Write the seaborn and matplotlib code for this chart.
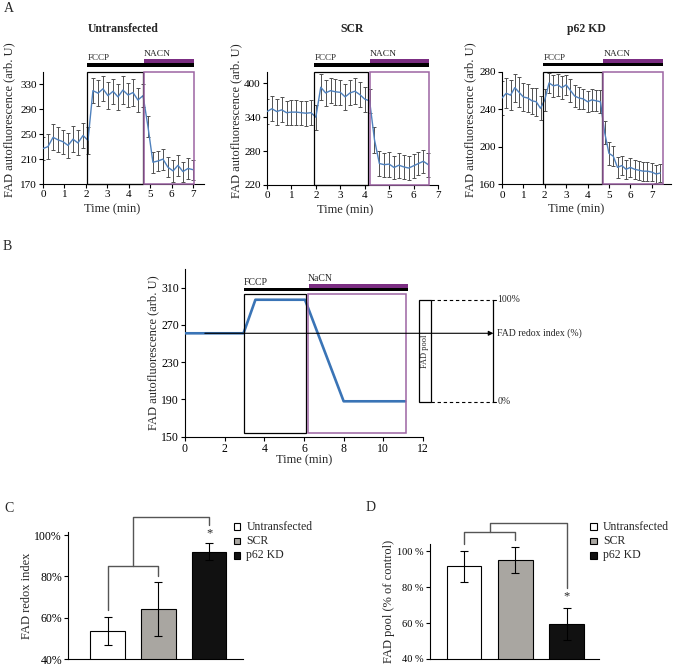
import matplotlib
matplotlib.use('Agg')
import matplotlib.pyplot as plt
from matplotlib.patches import Rectangle
from matplotlib.transforms import blended_transform_factory
import seaborn as sns

sns.set_theme(style='ticks')
plt.rcParams['font.family'] = ['Liberation Serif', 'DejaVu Serif']
plt.rcParams['axes.linewidth'] = 0.8
plt.rcParams['xtick.major.width'] = 0.8
plt.rcParams['ytick.major.width'] = 0.8
plt.rcParams['xtick.major.size'] = 3
plt.rcParams['ytick.major.size'] = 3
plt.rcParams['xtick.major.pad'] = 1.5
plt.rcParams['ytick.major.pad'] = 1.5

# ---------------- data ----------------
untr_t = [0.00, 0.23, 0.47, 0.70, 0.93, 1.17, 1.40, 1.63, 1.87, 2.10,
          2.33, 2.57, 2.80, 3.03, 3.27, 3.50, 3.73, 3.97, 4.20, 4.43, 4.67,
          4.90, 5.13, 5.37, 5.60, 5.83, 6.07, 6.30, 6.53, 6.77, 7.00]
untr_v = [227, 230, 245, 241, 238, 232, 242, 236, 248, 240,
          320, 316, 323, 312, 319, 310, 321, 313, 317, 305, 312,
          262, 205, 207, 210, 197, 191, 200, 190, 195, 193]
untr_e = [18, 20, 21, 20, 19, 20, 21, 20, 20, 22,
          20, 21, 20, 22, 20, 21, 22, 20, 21, 20, 19,
          17, 17, 16, 17, 16, 18, 17, 16, 17, 16]

scr_t = [0.0, 0.2, 0.4, 0.6, 0.8, 1.0, 1.2, 1.4, 1.6, 1.8,
         2.0, 2.2, 2.4, 2.6, 2.8, 3.0, 3.2, 3.4, 3.6, 3.8, 4.0, 4.2,
         4.4, 4.6, 4.8, 5.0, 5.2, 5.4, 5.6, 5.8, 6.0, 6.2, 6.4, 6.6]
scr_v = [350, 355, 350, 353, 348, 349, 349, 348, 347, 348,
         340, 393, 383, 387, 385, 384, 376, 383, 386, 380, 372, 369,
         300, 258, 256, 257, 251, 255, 252, 250, 254, 258, 262, 256]
scr_e = [22, 22, 23, 22, 21, 22, 22, 21, 22, 22,
         22, 23, 23, 22, 23, 22, 23, 22, 23, 22, 22, 21,
         23, 22, 21, 22, 21, 22, 21, 21, 21, 20, 20, 21]

p62_t = [0.0, 0.2, 0.4, 0.6, 0.8, 1.0, 1.2, 1.4, 1.6, 1.8,
         2.0, 2.2, 2.4, 2.6, 2.8, 3.0, 3.2, 3.4, 3.6, 3.8,
         4.0, 4.2, 4.4, 4.6, 4.8, 5.0, 5.2, 5.4, 5.6, 5.8,
         6.0, 6.2, 6.4, 6.6, 6.8, 7.0, 7.2, 7.4]
p62_v = [252, 257, 255, 263, 258, 253, 252, 249, 248, 241,
         250, 268, 265, 266, 263, 266, 260, 254, 252, 251,
         248, 250, 249, 248, 215, 193, 190, 178, 180, 176,
         178, 176, 175, 174, 174, 173, 171, 172]
p62_e = [18, 16, 16, 15, 16, 15, 15, 14, 15, 13,
         12, 11, 12, 12, 12, 11, 12, 12, 12, 11,
         11, 12, 11, 12, 12, 12, 11, 11, 10, 10,
         10, 10, 10, 10, 10, 10, 10, 10]

# drug application windows: [fccp start, fccp box end, nacn start, nacn end]
untr_win = [2.07, 4.66, 4.72, 7.05]
scr_win = [1.94, 4.15, 4.20, 6.64]
p62_win = [1.93, 4.69, 4.74, 7.51]

# schematic (panel B)
schem_t = [0.0, 2.95, 3.55, 6.05, 8.0, 11.1]
schem_v = [261, 261, 297, 297, 188, 188]
schem_fccp = [2.95, 6.1]
schem_nacn = [6.2, 11.15]

groups = ['Untransfected', 'SCR', 'p62 KD']
redox_vals = [53.4, 64.1, 92.0]
redox_err = [6.8, 13.2, 4.3]
pool_vals = [91.5, 95.0, 59.6]
pool_err = [8.6, 7.2, 8.8]
bar_colors = ['#ffffff', '#a9a6a1', '#111111']

BLUE = '#4f81bd'
PURPLE = '#7b2d82'
PURPLE_BOX = '#9c64a3'
BRACKET = '#555555'

W, H = 675, 666
fig = plt.figure(figsize=(W / 100, H / 100), dpi=100)


def rect(l, t, r, b):
    return [l / W, 1 - b / H, (r - l) / W, (b - t) / H]


def style(ax, fs=8.5):
    sns.despine(ax=ax)
    ax.tick_params(labelsize=fs, colors='black', direction='out')
    for s in ax.spines.values():
        s.set_color('black')


def panel_a(box, title, t, v, e, xlim, ylim, yticks, win, ylab_x, ylab_y, xlab_x):
    ax = fig.add_axes(rect(*box))
    hpx = box[3] - box[1]
    ax.errorbar(t, v, yerr=e, fmt='none', ecolor='#505050', elinewidth=0.7,
                capsize=1.3, capthick=0.7, zorder=2)
    sns.lineplot(x=t, y=v, ax=ax, color=BLUE, lw=1.0, zorder=3)
    ax.set_xlim(xlim)
    ax.set_ylim(ylim)
    ax.set_xticks(range(0, 8))
    ax.set_yticks(yticks)
    style(ax, fs=8)
    f0, f1, n0, n1 = win
    ax.add_patch(Rectangle((f0, ylim[0]), f1 - f0, ylim[1] - ylim[0], fill=False,
                           ec='black', lw=0.9, zorder=4, clip_on=False))
    ax.add_patch(Rectangle((n0, ylim[0]), n1 - n0, ylim[1] - ylim[0], fill=False,
                           ec=PURPLE_BOX, lw=1.1, zorder=4, clip_on=False))
    tr = blended_transform_factory(ax.transData, ax.transAxes)
    fr = lambda px: 1 + px / hpx
    ax.add_patch(Rectangle((f0, fr(5.3)), n1 - f0, fr(8.7) - fr(5.3), color='black',
                           transform=tr, clip_on=False, lw=0))
    ax.add_patch(Rectangle((n0, fr(8.7)), n1 - n0, fr(12.7) - fr(8.7), color=PURPLE,
                           transform=tr, clip_on=False, lw=0))
    ax.text(f0, fr(10.0), 'FCCP', transform=tr, fontsize=6.5, ha='left', va='bottom')
    ax.text(n0, fr(14.0), 'NACN', transform=tr, fontsize=6.8, ha='left', va='bottom')
    ax.set_title(title, fontsize=8.5, fontweight='bold', y=fr(43), va='center', pad=0)
    ax.set_ylabel('FAD autofluorescence (arb. U)', fontsize=9)
    ax.yaxis.set_label_coords(ylab_x, ylab_y)
    ax.set_xlabel('Time (min)', fontsize=9)
    ax.xaxis.set_label_coords(xlab_x, -0.17)
    return ax


panel_a((43, 72, 203.7, 184), 'Untransfected', untr_t, untr_v, untr_e,
        (0, 7.5), (170, 350), [170, 210, 250, 290, 330], untr_win, -0.17, 0.57, 0.43)
panel_a((267, 72, 438, 185), 'SCR', scr_t, scr_v, scr_e,
        (0, 7.0), (220, 420), [220, 280, 340, 400], scr_win, -0.142, 0.57, 0.456)
panel_a((502, 71.7, 671, 184.3), 'p62 KD', p62_t, p62_v, p62_e,
        (0, 7.9), (160, 280), [160, 200, 240, 280], p62_win, -0.152, 0.57, 0.44)

# ---------------- panel B ----------------
axb = fig.add_axes(rect(185, 269, 423, 436.7))
sns.lineplot(x=schem_t, y=schem_v, ax=axb, color='#3a74b6', lw=1.9, zorder=3)
axb.set_xlim(0, 12)
axb.set_ylim(150, 330)
axb.set_xticks(range(0, 13, 2))
axb.set_yticks([150, 190, 230, 270, 310])
style(axb)
axb.add_patch(Rectangle((schem_fccp[0], 154), schem_fccp[1] - schem_fccp[0], 149,
                        fill=False, ec='black', lw=0.9, zorder=4))
axb.add_patch(Rectangle((schem_nacn[0], 154), schem_nacn[1] - schem_nacn[0], 149,
                        fill=False, ec=PURPLE_BOX, lw=1.1, zorder=4))
axb.add_patch(Rectangle((schem_fccp[0], 306.4), 11.25 - schem_fccp[0], 3.4,
                        color='black', lw=0, clip_on=False))
axb.add_patch(Rectangle((6.26, 309.8), 11.25 - 6.26, 4.3,
                        color=PURPLE, lw=0, clip_on=False))
axb.text(schem_fccp[0], 311, 'FCCP', fontsize=7, ha='left', va='bottom')
axb.text(6.2, 315, 'NaCN', fontsize=7, ha='left', va='bottom')
axb.annotate('', xy=(15.55, 261), xytext=(1.0, 261),
             arrowprops=dict(arrowstyle='-|>', color='black', lw=0.8, mutation_scale=7,
                             shrinkA=0, shrinkB=0),
             annotation_clip=False, zorder=5)
axb.add_patch(Rectangle((11.79, 187.5), 0.62, 109.5, fill=False, ec='black', lw=0.9,
                        clip_on=False))
axb.text(12.1, 242, 'FAD pool', rotation=90, fontsize=6, ha='center', va='center')
for yy in (297, 187.5):
    axb.plot([12.41, 15.55], [yy, yy], color='black', lw=0.8, ls=(0, (3, 2.5)),
             clip_on=False)
    axb.plot([15.55, 15.7], [yy, yy], color='black', lw=0.8, clip_on=False)
axb.plot([15.55, 15.55], [187.5, 297], color='black', lw=0.9, clip_on=False)
axb.text(15.75, 297, '100%', fontsize=7, ha='left', va='center')
axb.text(15.75, 187.5, '0%', fontsize=7, ha='left', va='center')
axb.text(15.75, 261, 'FAD redox index (%)', fontsize=7, ha='left', va='center')
axb.set_ylabel('FAD autofluorescence (arb. U)', fontsize=9)
axb.yaxis.set_label_coords(-0.11, 0.5)
axb.set_xlabel('Time (min)', fontsize=9)
axb.xaxis.set_label_coords(0.5, -0.105)


# ---------------- panels C & D ----------------
def bar_panel(box, vals, errs, ylim, yticks, ticklabels, xlim, ylabel, ylab_x,
              brackets, star_y, leg_x, tick_fs):
    ax = fig.add_axes(rect(*box))
    sns.barplot(x=groups, y=vals, hue=groups, order=groups, hue_order=groups,
                palette=bar_colors, legend=False, width=0.67, saturation=1,
                edgecolor='black', linewidth=0.8, ax=ax)
    ax.errorbar(range(3), vals, yerr=errs, fmt='none', ecolor='black',
                elinewidth=0.8, capsize=3, capthick=0.8, zorder=5)
    ax.set_xlim(xlim)
    ax.set_ylim(ylim)
    ax.set_yticks(yticks)
    ax.set_yticklabels(ticklabels)
    ax.set_xticks([])
    ax.set_xlabel('')
    style(ax, fs=tick_fs)
    ax.set_ylabel(ylabel, fontsize=9)
    ax.yaxis.set_label_coords(ylab_x, 0.5)
    for xs, ys in brackets:
        ax.plot(xs, ys, color=BRACKET, lw=1.0, clip_on=False)
    ax.text(2, star_y, '*', fontsize=9, ha='center', va='center')
    # legend
    for i, (g, c) in enumerate(zip(groups, bar_colors)):
        yc = 526.7 + 14.2 * i
        fig.patches.append(Rectangle((leg_x / W, 1 - (yc + 3.4) / H), 6.8 / W, 6.8 / H,
                                     transform=fig.transFigure, fc=c, ec='black', lw=0.8))
        fig.text((leg_x + 13) / W, 1 - yc / H, g, fontsize=8.5, ha='left', va='center')
    return ax


bar_panel((68.3, 532, 243, 659), redox_vals, redox_err, (40, 101.5),
          [40, 60, 80, 100], ['40%', '60%', '80%', '100%'], (-0.77, 2.66),
          'FAD redox index', -0.2,
          [([0, 0, 1, 1], [63.5, 85, 85, 80.4]), ([0.5, 0.5, 2, 2], [85, 108.7, 108.7, 105])],
          100.8, 233.5, 8.5)
bar_panel((430, 544, 599.3, 659), pool_vals, pool_err, (40, 104),
          [40, 60, 80, 100], ['40 %', '60 %', '80 %', '100 %'], (-0.67, 2.64),
          'FAD pool (% of control)', -0.205,
          [([0, 0, 1, 1], [104.1, 110.9, 110.9, 106.3]), ([0.5, 0.5, 2, 2], [110.9, 115.5, 115.5, 79.4])],
          75.0, 590, 7.5)

# panel letters
for lbl, x, y in [('A', 4, 2), ('B', 3, 240), ('C', 4, 502), ('D', 366, 501)]:
    fig.text(x / W, 1 - y / H, lbl, fontsize=10, ha='left', va='top')

fig.savefig('out.png', dpi=100)
